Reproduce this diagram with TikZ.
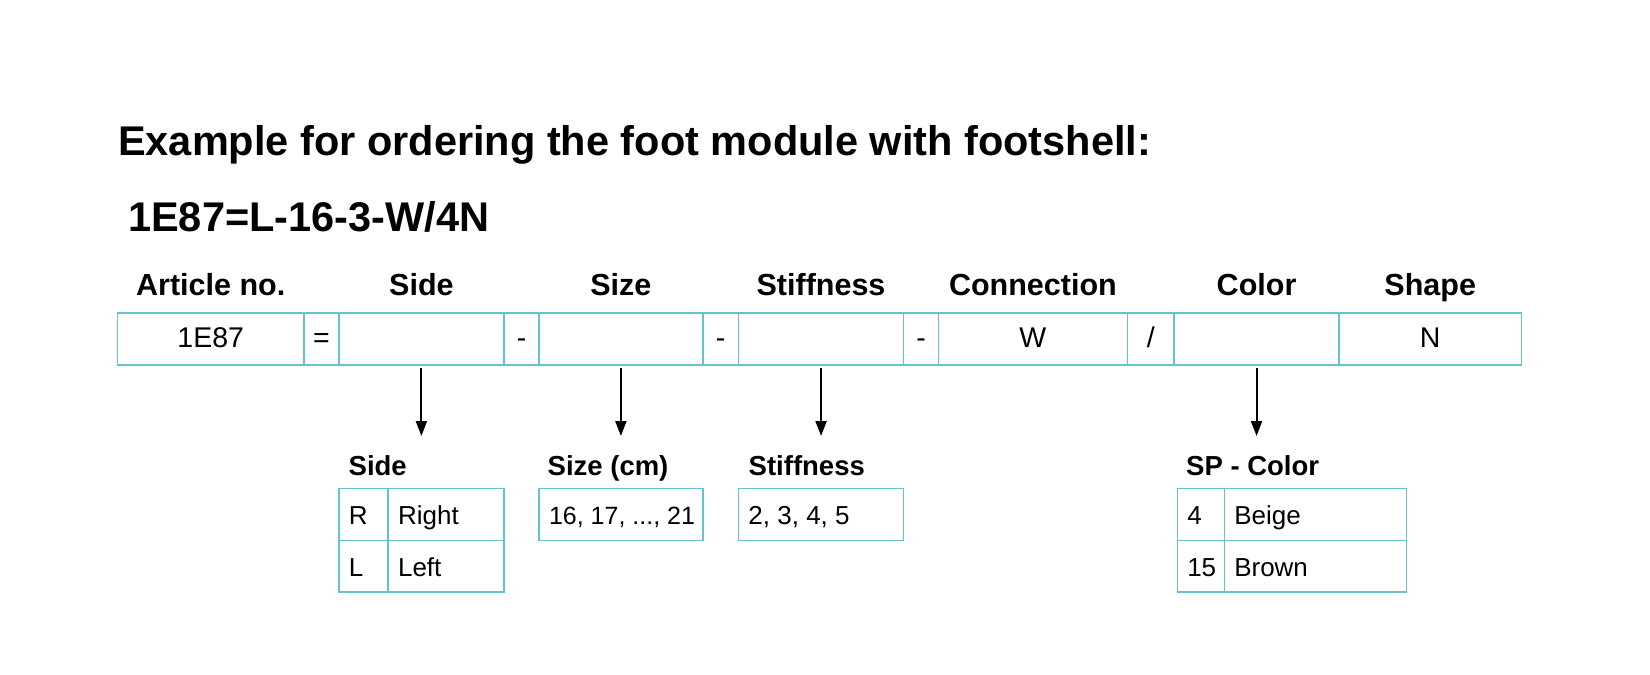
\documentclass[tikz,border=0pt]{standalone}
\usepackage{fontspec}
\setmainfont{Liberation Sans}
\usetikzlibrary{arrows.meta}
\definecolor{tealline}{RGB}{100,195,205}
\newcommand{\lbox}[2]{\makebox[#1][l]{#2}}
\begin{document}
\begin{tikzpicture}[x=1pt,y=-1pt,
  cell/.style={draw=tealline, line width=1.5pt, anchor=north west, inner sep=0pt,
    minimum height=51.7pt, text height=20pt, text depth=2.9pt,
    font=\fontsize{28.5}{30}\selectfont},
  subcell/.style={draw=tealline, line width=1.5pt, anchor=north west, inner xsep=10pt, inner ysep=0pt,
    text height=22pt, text depth=1pt, font=\fontsize{26}{28}\selectfont},
  head/.style={anchor=base, inner sep=0pt, font=\bfseries\fontsize{30.5}{32}\selectfont},
  subhead/.style={anchor=base west, inner sep=0pt, font=\bfseries\fontsize{27.5}{29}\selectfont},
  titletext/.style={anchor=base west, inner sep=0pt, font=\bfseries\fontsize{41.5}{46}\selectfont},
  arr/.style={-{Triangle[length=15pt,width=11pt]}, line width=2pt, black}
]
\useasboundingbox (0,0) rectangle (1650,675);
\fill[white] (0,0) rectangle (1650,675);

% titles
\node[titletext] (title) at (118,155) {Example for ordering the foot module with footshell:};
\node[titletext] (code) at (128,231.7) {1E87=L-16-3-W/4N};

% main row
\node[cell, minimum width=186.6pt] (cart) at (116.7,312.3) {1E87};
\node[cell, minimum width=34.7pt]  (ceq)  at (303.3,312.3) {=};
\node[cell, minimum width=165.3pt] (cside) at (338,312.3) {};
\node[cell, minimum width=35pt]    (cd1)  at (503.3,312.3) {-};
\node[cell, minimum width=163.7pt] (csize) at (538.3,312.3) {};
\node[cell, minimum width=35.7pt]  (cd2)  at (702,312.3) {-};
\node[cell, minimum width=165.2pt] (cstiff) at (737.7,312.3) {};
\node[cell, minimum width=34.7pt]  (cd3)  at (902.9,312.3) {-};
\node[cell, minimum width=189.1pt] (ccon) at (937.6,312.3) {W};
\node[cell, minimum width=46.6pt]  (csl)  at (1126.7,312.3) {/};
\node[cell, minimum width=165pt]   (ccol) at (1173.3,312.3) {};
\node[cell, minimum width=182.3pt] (cshape) at (1338.3,312.3) {N};

% headers
\node[head] (hart) at (cart.center |- 0,295) {Article no.};
\node[head] (hside) at (cside.center |- 0,295) {Side};
\node[head] (hsize) at (csize.center |- 0,295) {Size};
\node[head] (hstiff) at (cstiff.center |- 0,295) {Stiffness};
\node[head] (hcon) at (ccon.center |- 0,295) {Connection};
\node[head] (hcol) at (ccol.center |- 0,295) {Color};
\node[head] (hshape) at (cshape.center |- 0,295) {Shape};

% arrows
\coordinate (tside) at (cside.center |- 0,436);
\coordinate (tsize) at (csize.center |- 0,436);
\coordinate (tstiff) at (cstiff.center |- 0,436);
\coordinate (tcol) at (ccol.center |- 0,436);
\draw[arr] ([yshift=-2.5pt]cside.south) -- (tside);
\draw[arr] ([yshift=-2.5pt]csize.south) -- (tsize);
\draw[arr] ([yshift=-2.5pt]cstiff.south) -- (tstiff);
\draw[arr] ([yshift=-2.5pt]ccol.south) -- (tcol);

% sub headers
\node[subhead] (sside) at (348.5,475) {Side};
\node[subhead] (ssize) at (547.5,475) {Size (cm)};
\node[subhead] (sstiff) at (748.5,475) {Stiffness};
\node[subhead] (scol) at (1186,475) {SP - Color};

% side table
\node[subcell, minimum width=49.3pt, minimum height=52.3pt] (sR) at (338,487.5) {\lbox{29.3pt}{R}};
\node[subcell, minimum width=115.7pt, minimum height=52.3pt] (sRt) at (387.3,487.5) {\lbox{95.7pt}{Right}};
\node[subcell, minimum width=49.3pt, minimum height=51.6pt] (sL) at (338,539.8) {\lbox{29.3pt}{L}};
\node[subcell, minimum width=115.7pt, minimum height=51.6pt] (sLt) at (387.3,539.8) {\lbox{95.7pt}{Left}};

% size table
\node[subcell, minimum width=163.7pt, minimum height=52.3pt, font=\fontsize{25}{27}\selectfont] (zs) at (538.3,487.5) {\lbox{143.7pt}{16, 17, ..., 21}};

% stiffness table
\node[subcell, minimum width=165.2pt, minimum height=52.3pt] (st) at (737.7,487.5) {\lbox{145.2pt}{2, 3, 4, 5}};

% color table
\node[subcell, minimum width=47pt, minimum height=52.3pt] (c4) at (1176.5,487.5) {\lbox{27pt}{4}};
\node[subcell, minimum width=182.4pt, minimum height=52.3pt] (cBe) at (1223.5,487.5) {\lbox{162.4pt}{Beige}};
\node[subcell, minimum width=47pt, minimum height=51.6pt] (c15) at (1176.5,539.8) {\lbox{27pt}{15}};
\node[subcell, minimum width=182.4pt, minimum height=51.6pt] (cBr) at (1223.5,539.8) {\lbox{162.4pt}{Brown}};
\end{tikzpicture}
\end{document}
